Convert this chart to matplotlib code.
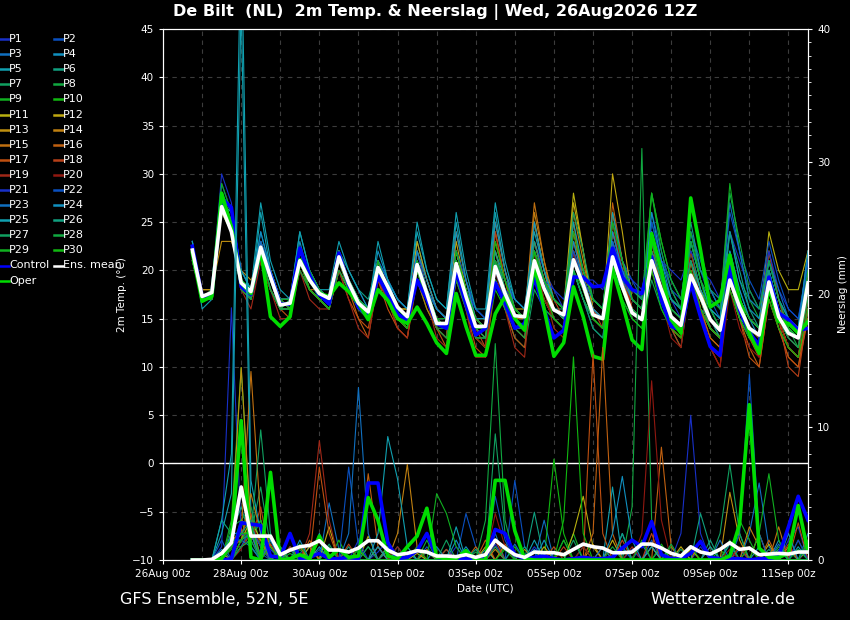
import numpy as np
import pandas as pd
import matplotlib
matplotlib.use("Agg")
import matplotlib.pyplot as plt
import matplotlib.dates as mdates
from matplotlib.lines import Line2D
from matplotlib.ticker import MultipleLocator, FixedLocator

# 6-hourly forecast steps, 26Aug 18z .. 11Sep 12z
times = pd.date_range("2026-08-26 18:00", periods=64, freq="6h")
tick_dates = pd.date_range("2026-08-26", "2026-09-11", freq="2D")

# --- ensemble mean / control / operational run -----------------------------
ens_mean_temp = [22.1, 17.3, 17.7, 26.6, 24.0, 18.7, 17.8, 22.4, 19.3, 16.4, 16.6, 21.0, 19.0,
                 17.6, 17.1, 21.4, 18.7, 16.6, 15.7, 20.3, 18.3, 16.2, 15.2, 20.6, 17.6,
                 14.5, 14.5, 20.7, 17.3, 14.2, 14.2, 20.4, 17.6, 15.3, 15.2, 21.0, 18.1,
                 15.9, 15.4, 21.1, 18.5, 15.4, 15.0, 21.4, 18.3, 15.6, 14.9, 21.0, 18.0,
                 15.2, 14.3, 19.5, 17.3, 14.9, 13.8, 19.0, 16.2, 14.0, 13.3, 18.8, 15.2,
                 13.5, 13.0, 18.7]
control_temp = [22.5, 17.3, 17.5, 27.5, 26.5, 18.3, 17.5, 22.0, 19.5, 16.5, 16.5, 22.3, 19.5,
                17.5, 16.5, 21.8, 18.5, 16.2, 15.2, 19.4, 17.5, 15.5, 14.8, 19.0, 17.0,
                14.5, 14.0, 20.0, 16.5, 13.3, 14.0, 18.7, 16.6, 14.0, 14.5, 19.3, 15.9,
                13.0, 13.8, 19.3, 19.3, 18.3, 18.4, 22.3, 19.3, 18.0, 17.6, 21.4, 16.9,
                14.2, 13.8, 18.7, 15.2, 12.1, 11.2, 20.4, 15.9, 13.5, 12.3, 19.3, 15.6,
                14.9, 13.8, 14.0]
oper_temp = [21.8, 16.8, 17.3, 28.0, 24.5, 18.7, 17.6, 22.1, 15.2, 14.2, 15.2, 21.1, 19.0,
             17.6, 17.3, 18.7, 17.8, 16.6, 14.9, 18.0, 16.9, 15.0, 14.5, 16.2, 14.5,
             12.5, 11.4, 17.6, 14.2, 11.2, 11.2, 15.5, 17.3, 15.0, 13.8, 20.4, 16.0,
             11.1, 12.5, 18.3, 15.2, 11.1, 10.8, 20.2, 16.6, 12.8, 11.8, 23.8, 20.0,
             14.9, 13.5, 27.5, 22.1, 16.2, 16.9, 21.6, 16.9, 13.5, 11.4, 18.3, 14.7,
             14.5, 13.5, 14.7]

ens_mean_precip = [0, 0, 0.05, 0.5, 1.3, 5.5, 1.8, 1.8, 1.8, 0.4, 0.75, 1.0, 1.1,
                   1.45, 0.75, 0.75, 0.6, 0.9, 1.45, 1.45, 0.75, 0.4, 0.5, 0.7, 0.6,
                   0.3, 0.3, 0.25, 0.4, 0.2, 0.4, 1.5, 0.9, 0.4, 0.2, 0.6, 0.55,
                   0.55, 0.4, 0.8, 1.2, 1.0, 0.9, 0.55, 0.55, 0.6, 1.2, 1.2, 0.9,
                   0.5, 0.3, 1.0, 0.6, 0.45, 0.8, 1.3, 0.8, 0.9, 0.4, 0.45, 0.5,
                   0.45, 0.6, 0.6]
control_precip = [0, 0, 0, 0, 0.1, 2.8, 2.7, 2.6, 0.3, 0.2, 2.0, 0.1, 0.2,
                  0.5, 0.1, 0.1, 0.2, 0.1, 5.8, 5.8, 1.3, 0.1, 0.2, 0.7, 2.0,
                  0.2, 0, 0, 0.1, 0, 0.1, 2.3, 2.0, 0.4, 0.1, 0.2, 0.3,
                  0.1, 0, 0.1, 0.2, 0.1, 0.1, 0.2, 0.9, 1.5, 1.0, 2.9, 0.4,
                  0.1, 0.1, 0.5, 1.4, 0.2, 0.1, 0.1, 0.1, 0, 0.1, 0.1, 0.3,
                  2.5, 4.8, 3.0]
oper_precip = [0, 0, 0, 0.1, 1.5, 10.5, 0.2, 0, 6.6, 0, 0.1, 0.4, 0.1,
               1.8, 0.2, 0.8, 0.2, 0.3, 4.7, 3.0, 0.3, 0.1, 1.0, 1.8, 3.9,
               0.2, 0.1, 0.1, 0.7, 0, 0, 6.0, 6.0, 2.2, 0.1, 0, 0,
               0, 0, 0, 0, 0, 0, 0, 0, 0, 0, 0, 0,
               0, 0, 0, 0, 0, 0, 0.3, 2.7, 11.7, 0.9, 0.2, 0.2,
               0.5, 4.1, 0.6]

# --- perturbed members P1..P30 (2m temperature, degC) -----------------------
member_temp = [
    [23, 17,18,30,27, 19,17,23,19, 16,16,21,19, 18,17,22,20, 18,16,21,19, 17,16,22,19, 16,15,22,18, 15,14,21,19, 17,16,23,20, 18,16,22,19, 16,15,23,20, 18,17,24,20, 17,15,22,18, 16,14,20,17, 14,12,18,15, 13,12,17],
    [22, 17,17,28,25, 19,18,22,19, 17,16,22,19, 17,16,20,18, 16,15,19,17, 15,14,20,17, 14,13,19,16, 13,13,19,17, 14,13,20,17, 15,14,21,19, 17,16,24,21, 19,17,26,22, 18,17,24,20, 17,15,22,18, 15,14,20,16, 14,13,17],
    [22, 17,18,28,26, 20,18,24,20, 17,17,22,19, 18,17,21,18, 17,15,19,17, 15,14,21,18, 15,14,22,18, 14,13,21,18, 15,14,20,17, 15,14,20,17, 14,13,22,19, 16,15,25,21, 18,16,22,18, 15,13,19,16, 14,12,20,16, 14,13,21],
    [21, 17,18,27,24, 18,17,23,19, 16,17,22,19, 18,17,22,19, 17,16,21,19, 17,16,23,19, 16,15,22,18, 15,15,22,19, 16,15,20,18, 16,15,22,19, 16,15,21,18, 16,15,22,19, 16,15,23,19, 16,14,21,17, 15,13,18,15, 13,12,19],
    [23, 16,17,27,25, 19,17,26,20, 17,17,24,20, 18,17,22,19, 17,16,21,19, 17,16,24,20, 17,16,25,19, 16,15,26,20, 17,16,22,19, 16,15,20,17, 15,14,20,18, 16,15,21,18, 15,14,19,16, 14,13,18,15, 14,13,20,16, 15,14,22],
    [22, 17,17,26,24, 19,18,21,18, 16,16,20,18, 17,17,22,20, 18,17,21,18, 16,15,20,17, 15,14,20,17, 14,13,19,16, 14,14,21,18, 16,16,23,20, 17,16,24,20, 17,16,21,18, 15,14,19,16, 15,13,20,17, 15,14,21,17, 15,14,18],
    [22, 17,18,27,24, 18,17,22,19, 17,17,21,18, 17,16,20,18, 16,15,19,17, 15,14,19,17, 14,14,20,17, 13,12,19,16, 13,12,18,16, 15,14,20,17, 14,13,20,17, 15,14,19,16, 14,12,19,17, 15,14,21,17, 14,13,18,14, 12,11,16],
    [22, 17,18,28,25, 19,18,21,18, 16,16,22,19, 18,17,21,18, 17,16,20,18, 16,16,22,18, 15,14,21,17, 14,14,20,17, 15,15,22,19, 17,16,23,20, 17,16,22,19, 18,17,28,22, 18,16,22,18, 15,14,24,19, 17,15,20,16, 14,13,19],
    [21, 17,18,27,24, 19,18,22,19, 16,17,21,19, 18,17,21,19, 17,16,20,18, 16,15,20,17, 15,14,20,17, 13,13,19,17, 15,14,20,18, 16,15,21,18, 15,14,20,17, 15,14,22,19, 17,16,27,22, 18,16,29,22, 17,16,22,17, 15,14,20],
    [22, 17,17,27,24, 18,17,22,18, 16,16,21,18, 17,17,20,18, 16,15,20,17, 15,14,19,16, 14,13,20,16, 13,12,18,16, 14,13,19,17, 15,14,20,18, 15,14,21,18, 16,15,28,23, 19,17,23,19, 16,14,20,17, 14,13,18,15, 13,12,17],
    [22, 18,18,26,24, 19,18,22,19, 17,17,21,19, 18,17,21,19, 17,16,21,18, 16,16,22,18, 16,15,22,18, 15,15,21,18, 16,16,23,19, 17,16,28,22, 16,15,26,21, 18,17,24,20, 16,15,21,18, 15,14,20,17, 15,14,24,20, 18,18,22],
    [22, 17,18,27,24, 19,18,23,20, 17,17,22,19, 18,17,22,19, 17,16,21,18, 16,15,23,19, 16,15,23,18, 15,14,23,19, 16,15,25,20, 16,15,27,22, 16,15,30,24, 17,16,22,18, 15,14,21,17, 14,13,20,16, 13,12,18,15, 12,11,17],
    [22, 18,18,23,23, 20,19,21,18, 16,16,20,18, 17,16,20,18, 16,15,19,17, 15,14,20,17, 15,14,22,18, 15,14,22,18, 16,15,25,20, 16,15,24,20, 15,14,22,18, 16,15,20,17, 15,14,19,16, 14,13,18,15, 13,12,19,15, 12,11,15],
    [22, 17,18,27,24, 19,18,22,19, 17,16,21,18, 17,16,22,19, 17,16,21,18, 16,16,22,19, 16,15,24,19, 15,14,25,20, 16,15,26,21, 17,16,26,21, 16,15,24,20, 16,15,22,18, 15,14,20,17, 14,13,21,17, 14,13,22,17, 14,13,20],
    [22, 17,18,27,24, 19,18,22,19, 17,16,21,18, 18,17,22,19, 16,15,20,17, 14,13,19,16, 14,13,21,17, 14,13,24,19, 15,15,27,21, 16,15,24,19, 15,14,23,19, 16,15,21,17, 14,13,20,16, 13,12,20,16, 13,12,18,15, 12,11,18],
    [21, 17,18,27,24, 19,18,22,19, 16,16,21,18, 17,16,21,18, 15,13,19,17, 15,14,20,17, 14,13,21,17, 13,12,21,17, 14,13,22,18, 15,14,25,19, 15,14,27,21, 16,15,22,17, 14,13,20,16, 13,12,19,15, 12,10,17,14, 11,10,16],
    [22, 17,17,27,24, 18,17,21,18, 16,15,21,18, 17,16,20,17, 15,14,19,16, 14,13,20,17, 14,12,20,16, 12,11,19,16, 13,12,21,17, 15,14,22,19, 16,15,25,20, 16,15,23,18, 14,13,21,16, 12,10,20,15, 11,10,17,14, 11,10,15],
    [22, 17,18,28,25, 19,17,21,18, 16,16,21,18, 17,16,21,18, 16,15,20,17, 15,14,20,17, 14,13,21,17, 14,12,24,19, 15,14,23,19, 17,15,22,18, 16,14,26,21, 16,15,21,17, 14,12,20,16, 12,11,21,16, 13,11,19,15, 10,9,16],
    [22, 17,18,28,25, 18,16,21,18, 15,15,20,17, 16,16,20,17, 14,13,19,17, 14,13,20,17, 13,12,19,16, 11,11,20,16, 12,11,22,18, 14,13,23,19, 15,14,24,20, 16,15,23,19, 15,14,22,17, 14,13,21,16, 14,13,22,17, 13,12,20],
    [22, 17,17,27,24, 18,17,21,18, 16,16,20,18, 17,16,21,18, 16,15,20,17, 15,14,20,17, 14,13,20,16, 13,12,20,17, 14,13,21,17, 15,14,22,18, 15,14,25,20, 17,16,22,17, 13,12,19,15, 12,10,18,14, 12,11,20,15, 12,11,17],
    [23, 17,18,29,26, 19,18,23,20, 17,17,22,19, 18,17,22,19, 17,16,21,19, 17,16,22,18, 16,15,21,18, 16,15,21,18, 17,16,22,19, 18,17,21,19, 19,18,22,20, 19,18,23,21, 20,19,22,20, 19,17,24,21, 18,16,22,18, 16,15,20],
    [22, 17,18,28,25, 19,18,22,19, 17,16,21,19, 18,17,21,19, 17,16,20,18, 16,15,21,18, 15,15,22,19, 16,15,21,19, 17,16,21,19, 17,16,22,19, 17,16,23,20, 18,17,25,21, 19,17,24,21, 18,16,26,22, 19,17,23,19, 16,15,21],
    [22, 17,18,28,25, 20,18,23,20, 17,17,22,20, 18,17,22,19, 17,16,21,19, 16,15,21,18, 16,15,20,17, 14,14,20,17, 16,15,21,18, 16,15,21,18, 16,15,23,19, 17,16,24,20, 17,16,24,20, 18,16,27,22, 17,16,21,18, 15,14,20],
    [22, 17,17,27,25, 19,18,24,20, 17,17,23,19, 18,17,22,19, 17,16,22,19, 16,15,22,19, 16,15,24,19, 15,15,25,20, 16,15,25,20, 17,16,23,19, 16,15,24,20, 17,16,26,21, 17,16,23,19, 16,15,24,19, 16,15,21,17, 15,14,22],
    [23, 17,18,27,26, 20,18,27,21, 18,17,24,20, 18,18,23,20, 18,16,23,19, 17,16,25,20, 17,16,26,20, 16,16,27,21, 17,16,24,20, 17,16,25,20, 17,16,26,21, 18,17,24,20, 17,16,21,18, 16,15,22,18, 15,14,20,16, 14,13,19],
    [22, 17,18,27,24, 19,18,22,19, 16,16,21,19, 18,17,21,19, 16,15,20,18, 16,15,20,17, 15,14,21,18, 15,14,22,18, 16,15,23,19, 16,15,20,17, 15,14,21,18, 16,15,22,19, 17,16,25,20, 18,17,24,20, 16,14,20,16, 14,13,18],
    [22, 17,18,27,24, 19,17,22,18, 16,16,21,18, 17,16,21,19, 17,16,21,18, 16,15,21,18, 15,14,21,18, 14,13,21,18, 16,15,22,19, 17,16,26,22, 17,16,25,21, 18,17,23,19, 16,15,21,17, 14,13,19,15, 13,12,18,15, 13,12,18],
    [21, 17,18,27,24, 18,17,22,18, 16,16,20,18, 17,16,20,18, 16,15,20,17, 15,14,20,17, 14,13,19,16, 13,13,19,16, 14,13,19,16, 15,14,20,17, 15,14,21,18, 16,15,21,18, 16,15,23,19, 17,16,28,23, 18,16,21,17, 14,12,17],
    [22, 17,18,29,26, 19,18,22,19, 17,17,22,20, 18,17,22,19, 17,16,21,18, 16,15,21,18, 15,15,21,18, 15,14,21,19, 16,15,22,19, 17,16,24,20, 17,16,25,21, 17,16,28,23, 19,17,24,19, 15,14,21,17, 15,14,19,16, 14,13,20],
    [22, 17,17,27,24, 19,18,22,19, 17,16,21,18, 17,16,21,18, 16,15,20,17, 15,14,20,17, 15,14,22,18, 14,14,23,19, 16,15,22,18, 15,14,21,18, 15,14,22,18, 15,14,20,16, 14,13,20,16, 14,13,18,15, 13,12,17,14, 12,11,16],
]

# --- perturbed members precipitation (mm per 6h), only non-zero steps -------
member_precip = [
    {3: 1.0, 4: 19.0, 5: 2.0, 6: 1.5, 7: 2.0, 8: 0.8, 11: 0.5, 12: 1.2, 19: 0.6, 20: 1.5, 31: 1.2, 45: 0.8, 52: 1.0, 61: 1.5, 62: 2.5},
    {4: 1.5, 5: 1.5, 6: 2.0, 7: 0.5, 10: 1.0, 13: 0.8, 24: 1.0, 28: 3.5, 29: 1.0, 33: 6.0, 34: 1.0, 47: 1.5, 56: 0.8, 63: 1.2},
    {4: 2.0, 5: 2.0, 6: 1.0, 9: 0.5, 14: 4.3, 15: 0.8, 22: 0.6, 31: 2.0, 36: 3.0, 46: 1.2, 57: 2.0, 58: 5.8, 59: 1.0},
    {3: 0.8, 5: 3.0, 6: 2.5, 7: 1.0, 12: 1.0, 20: 0.7, 27: 1.5, 35: 0.8, 44: 2.0, 48: 1.0, 60: 1.5, 63: 2.0},
    {3: 2.0, 4: 5.0, 5: 42.0, 6: 3.0, 8: 1.5, 13: 2.0, 21: 1.0, 30: 0.8, 43: 5.5, 47: 1.0, 55: 1.2, 62: 1.0},
    {3: 3.0, 4: 2.0, 5: 4.0, 6: 1.5, 7: 3.0, 16: 1.0, 26: 0.8, 35: 3.6, 44: 1.0, 53: 1.5, 59: 0.8},
    {4: 1.0, 5: 2.0, 6: 2.0, 7: 5.5, 8: 1.0, 14: 1.2, 24: 0.6, 31: 9.5, 32: 2.0, 40: 1.0, 50: 0.8, 56: 2.0, 61: 0.7},
    {4: 2.5, 5: 3.0, 6: 4.0, 7: 1.0, 11: 0.8, 18: 1.0, 29: 0.6, 38: 1.5, 45: 4.0, 46: 31.0, 47: 3.0, 55: 1.5, 60: 1.0},
    {4: 3.0, 5: 14.5, 6: 2.0, 7: 1.5, 10: 0.5, 17: 0.8, 25: 1.0, 32: 1.0, 39: 2.0, 49: 1.0, 56: 3.0, 57: 1.5},
    {4: 0.8, 5: 3.0, 6: 1.0, 8: 2.0, 15: 1.5, 22: 1.0, 33: 1.0, 37: 7.6, 38: 2.0, 48: 1.2, 54: 0.8, 62: 1.5},
    {3: 0.5, 5: 1.5, 6: 3.0, 7: 1.5, 12: 1.0, 18: 1.8, 23: 0.5, 30: 1.0, 39: 2.0, 40: 4.8, 41: 1.0, 51: 0.8, 59: 1.2, 63: 0.8},
    {4: 1.5, 5: 2.0, 6: 2.0, 9: 0.8, 14: 2.5, 19: 1.0, 28: 0.8, 36: 1.0, 43: 1.5, 50: 1.0, 58: 2.0},
    {4: 2.0, 5: 14.5, 6: 2.5, 7: 1.0, 13: 1.5, 20: 1.0, 31: 0.8, 41: 1.2, 55: 5.1, 56: 1.5, 61: 1.0},
    {4: 1.0, 5: 1.5, 6: 5.0, 7: 2.0, 11: 1.0, 21: 2.0, 22: 7.2, 23: 1.0, 34: 0.8, 47: 1.0, 57: 2.5, 58: 1.0},
    {4: 1.5, 5: 2.0, 6: 14.2, 7: 3.0, 8: 1.0, 13: 1.8, 24: 0.8, 32: 1.2, 42: 1.0, 52: 1.5, 60: 2.5},
    {5: 1.0, 6: 2.0, 7: 1.5, 12: 1.5, 18: 6.5, 19: 1.0, 29: 1.0, 41: 2.0, 42: 16.0, 43: 2.0, 48: 8.5, 49: 1.0, 59: 1.5},
    {4: 1.0, 5: 2.0, 6: 3.5, 8: 1.2, 13: 7.0, 14: 2.0, 20: 1.0, 30: 1.5, 37: 1.0, 41: 15.5, 42: 2.0, 53: 1.0, 62: 2.8},
    {5: 1.0, 6: 1.5, 7: 4.0, 10: 1.0, 16: 1.2, 26: 0.8, 31: 1.5, 38: 1.0, 44: 1.5, 47: 2.0, 56: 1.0, 61: 1.2},
    {4: 1.0, 5: 1.0, 6: 2.0, 12: 2.0, 13: 9.0, 14: 3.0, 23: 1.0, 31: 1.0, 45: 1.0, 57: 1.0},
    {5: 0.8, 6: 3.0, 7: 1.0, 15: 0.8, 21: 1.0, 31: 3.5, 32: 1.0, 40: 1.0, 46: 2.0, 47: 13.5, 48: 3.0, 55: 0.8},
    {4: 2.0, 5: 2.0, 6: 1.5, 9: 1.0, 17: 1.5, 27: 1.0, 35: 1.0, 50: 2.0, 51: 10.9, 52: 2.0, 62: 1.5},
    {3: 1.5, 5: 1.0, 6: 2.5, 7: 1.0, 16: 7.0, 17: 1.0, 31: 4.8, 32: 1.5, 44: 1.0, 56: 2.0, 57: 14.0, 58: 2.0, 63: 1.0},
    {5: 1.5, 6: 1.0, 8: 1.5, 16: 2.0, 17: 13.0, 18: 2.0, 25: 1.0, 33: 1.2, 42: 1.0, 54: 1.5, 60: 1.2},
    {4: 2.0, 5: 2.0, 6: 2.0, 11: 1.5, 19: 1.0, 28: 1.0, 36: 1.5, 43: 2.0, 44: 6.3, 45: 1.5, 53: 1.0, 61: 2.0},
    {3: 3.0, 4: 8.0, 5: 48.0, 6: 6.0, 7: 2.0, 13: 1.0, 19: 2.0, 20: 9.3, 21: 6.1, 22: 1.0, 27: 2.5, 35: 1.5, 47: 1.0, 58: 1.0},
    {4: 1.0, 5: 2.0, 6: 3.0, 10: 0.8, 20: 1.0, 29: 0.8, 34: 1.0, 44: 2.0, 52: 3.5, 53: 1.0, 60: 0.8},
    {4: 1.5, 5: 1.5, 6: 2.0, 7: 9.8, 8: 2.0, 18: 1.0, 26: 1.5, 31: 1.0, 39: 1.5, 54: 2.0, 55: 7.2, 56: 2.0},
    {5: 1.0, 6: 1.5, 9: 1.0, 14: 1.0, 24: 1.5, 30: 3.0, 31: 16.3, 32: 3.0, 43: 1.0, 49: 1.2, 62: 0.8},
    {4: 1.0, 5: 2.0, 6: 2.0, 7: 3.0, 11: 1.2, 25: 5.0, 26: 3.5, 27: 1.0, 38: 1.5, 46: 1.5, 58: 2.0, 59: 6.5, 60: 1.5},
    {5: 1.5, 6: 2.5, 8: 1.0, 17: 0.8, 23: 1.0, 32: 0.8, 38: 3.0, 39: 15.3, 40: 2.0, 51: 1.0, 57: 1.0, 63: 1.5},
]

member_labels = [f"P{k}" for k in range(1, 31)]
base_colors = ["#1830c8", "#0a50c0", "#1070c0", "#1090c0", "#10a0b0",
               "#10a080", "#10a060", "#10a840", "#10b020", "#10b810",
               "#b8b010", "#c0a810", "#c09010", "#c08010", "#c07010",
               "#c06010", "#c05010", "#b84018", "#a02818", "#901810"]
member_colors = base_colors + base_colors[:10]

for row in member_temp:
    assert len(row) == len(times), len(row)

BG = "black"
FG = "white"
plt.rcParams["font.family"] = "DejaVu Sans"

fig = plt.figure(figsize=(8.5, 6.2), dpi=100, facecolor=BG)
ax = fig.add_axes([163 / 850, 1 - 560 / 620, 645 / 850, 531 / 620], facecolor=BG)
ax2 = ax.twinx()

# temperature spaghetti
for temps, col in zip(member_temp, member_colors):
    ax.plot(times, temps, color=col, lw=0.8)
ax.plot(times, control_temp, color="#0000ff", lw=2.6)
ax.plot(times, oper_temp, color="#00dd00", lw=2.6)
ax.plot(times, ens_mean_temp, color="white", lw=2.6)
ax.axhline(0, color="white", lw=1.0)

# precipitation spaghetti on right axis
for spikes, col in zip(member_precip, member_colors):
    rain = np.zeros(len(times))
    for step, mm in spikes.items():
        rain[step] = mm
    ax2.plot(times, rain, color=col, lw=0.8)
ax2.plot(times, control_precip, color="#0000ff", lw=2.6)
ax2.plot(times, oper_precip, color="#00dd00", lw=2.6)
ax2.plot(times, ens_mean_precip, color="white", lw=2.6)

ax.set_xlim(pd.Timestamp("2026-08-26 00:00"), pd.Timestamp("2026-09-11 12:00"))
ax.set_ylim(-10, 45)
ax2.set_ylim(0, 40)

ax.xaxis.set_major_locator(FixedLocator(mdates.date2num(tick_dates.to_pydatetime())))
ax.xaxis.set_minor_locator(mdates.DayLocator())
ax.xaxis.set_major_formatter(mdates.DateFormatter("%d%b %Hz"))
ax.yaxis.set_major_locator(MultipleLocator(5))
ax2.yaxis.set_major_locator(FixedLocator([0, 10, 20, 30, 40]))
ax2.yaxis.set_minor_locator(MultipleLocator(1))

ax.grid(True, which="both", axis="x", color="#3c3c3c", ls=(0, (4, 4)), lw=0.8)
ax.grid(True, which="major", axis="y", color="#3c3c3c", ls=(0, (4, 4)), lw=0.8)
ax.set_axisbelow(True)

for a in (ax, ax2):
    for sp in a.spines.values():
        sp.set_color(FG)
    a.tick_params(colors=FG, labelsize=7.5, length=3)
ax.tick_params(axis="x", which="minor", length=0)
ax2.tick_params(axis="y", which="minor", length=2, color=FG)

ax.set_ylabel("2m Temp. (°C)", color=FG, fontsize=7.5, labelpad=4)
ax2.set_ylabel("Neerslag (mm)", color=FG, fontsize=7.5, labelpad=6)
ax.set_xlabel("Date (UTC)", color=FG, fontsize=7.5, labelpad=3)

fig.text(435 / 850, 1 - 12 / 620, "De Bilt  (NL)  2m Temp. & Neerslag | Wed, 26Aug2026 12Z",
         color=FG, fontsize=11.5, fontweight="bold", ha="center", va="center")
fig.text(120 / 850, 1 - 599 / 620, "GFS Ensemble, 52N, 5E", color=FG, fontsize=11.5,
         ha="left", va="center")
fig.text(795 / 850, 1 - 599 / 620, "Wetterzentrale.de", color=FG, fontsize=11.5,
         ha="right", va="center")

# legend, two columns, drawn in figure pixels
left_col = [(member_labels[k], member_colors[k]) for k in range(0, 30, 2)]
left_col += [("Control", "#0000ff"), ("Oper", "#00dd00")]
right_col = [(member_labels[k], member_colors[k]) for k in range(1, 30, 2)]
right_col += [("Ens. mean", "white")]
for x0, entries in ((0, left_col), (54, right_col)):
    for r, (lab, col) in enumerate(entries):
        py = 39 + 15.1 * r
        fy = 1 - py / 620
        fig.add_artist(Line2D([x0 / 850, (x0 + 9) / 850], [fy, fy], color=col, lw=1.8,
                              transform=fig.transFigure))
        fig.text((x0 + 9) / 850, fy, lab, color=FG, fontsize=8, ha="left", va="center")

fig.savefig("out.png", dpi=100, facecolor=BG)
